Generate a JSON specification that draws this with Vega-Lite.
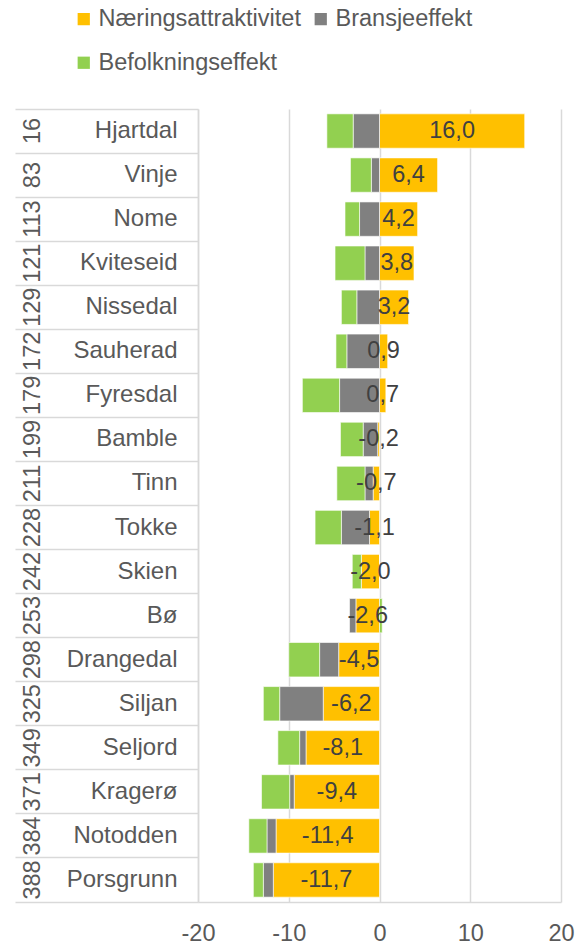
{
  "$schema": "https://vega.github.io/schema/vega-lite/v6.json",
  "padding": {"left": 14, "top": 7, "right": 0, "bottom": 0},
  "width": 363,
  "height": 793,
  "config": {
    "locale": {"number": {"decimal": ",", "thousands": " ", "grouping": [3], "currency": ["", " kr"], "minus": "-"}},
    "view": {"stroke": null},
    "font": "Liberation Sans"
  },
  "data": {"values": [
    {"rang": "16", "kommune": "Hjartdal", "serie": "Næringsattraktivitet", "verdi": 16.0},
    {"rang": "16", "kommune": "Hjartdal", "serie": "Bransjeeffekt", "verdi": -2.9},
    {"rang": "16", "kommune": "Hjartdal", "serie": "Befolkningseffekt", "verdi": -2.9},
    {"rang": "83", "kommune": "Vinje", "serie": "Næringsattraktivitet", "verdi": 6.4},
    {"rang": "83", "kommune": "Vinje", "serie": "Bransjeeffekt", "verdi": -0.9},
    {"rang": "83", "kommune": "Vinje", "serie": "Befolkningseffekt", "verdi": -2.3},
    {"rang": "113", "kommune": "Nome", "serie": "Næringsattraktivitet", "verdi": 4.2},
    {"rang": "113", "kommune": "Nome", "serie": "Bransjeeffekt", "verdi": -2.2},
    {"rang": "113", "kommune": "Nome", "serie": "Befolkningseffekt", "verdi": -1.6},
    {"rang": "121", "kommune": "Kviteseid", "serie": "Næringsattraktivitet", "verdi": 3.8},
    {"rang": "121", "kommune": "Kviteseid", "serie": "Bransjeeffekt", "verdi": -1.6},
    {"rang": "121", "kommune": "Kviteseid", "serie": "Befolkningseffekt", "verdi": -3.3},
    {"rang": "129", "kommune": "Nissedal", "serie": "Næringsattraktivitet", "verdi": 3.2},
    {"rang": "129", "kommune": "Nissedal", "serie": "Bransjeeffekt", "verdi": -2.5},
    {"rang": "129", "kommune": "Nissedal", "serie": "Befolkningseffekt", "verdi": -1.7},
    {"rang": "172", "kommune": "Sauherad", "serie": "Næringsattraktivitet", "verdi": 0.9},
    {"rang": "172", "kommune": "Sauherad", "serie": "Bransjeeffekt", "verdi": -3.6},
    {"rang": "172", "kommune": "Sauherad", "serie": "Befolkningseffekt", "verdi": -1.2},
    {"rang": "179", "kommune": "Fyresdal", "serie": "Næringsattraktivitet", "verdi": 0.7},
    {"rang": "179", "kommune": "Fyresdal", "serie": "Bransjeeffekt", "verdi": -4.4},
    {"rang": "179", "kommune": "Fyresdal", "serie": "Befolkningseffekt", "verdi": -4.1},
    {"rang": "199", "kommune": "Bamble", "serie": "Næringsattraktivitet", "verdi": -0.2},
    {"rang": "199", "kommune": "Bamble", "serie": "Bransjeeffekt", "verdi": -1.6},
    {"rang": "199", "kommune": "Bamble", "serie": "Befolkningseffekt", "verdi": -2.5},
    {"rang": "211", "kommune": "Tinn", "serie": "Næringsattraktivitet", "verdi": -0.7},
    {"rang": "211", "kommune": "Tinn", "serie": "Bransjeeffekt", "verdi": -0.9},
    {"rang": "211", "kommune": "Tinn", "serie": "Befolkningseffekt", "verdi": -3.1},
    {"rang": "228", "kommune": "Tokke", "serie": "Næringsattraktivitet", "verdi": -1.1},
    {"rang": "228", "kommune": "Tokke", "serie": "Bransjeeffekt", "verdi": -3.1},
    {"rang": "228", "kommune": "Tokke", "serie": "Befolkningseffekt", "verdi": -2.9},
    {"rang": "242", "kommune": "Skien", "serie": "Næringsattraktivitet", "verdi": -2.0},
    {"rang": "242", "kommune": "Skien", "serie": "Bransjeeffekt", "verdi": 0.0},
    {"rang": "242", "kommune": "Skien", "serie": "Befolkningseffekt", "verdi": -1.0},
    {"rang": "253", "kommune": "Bø", "serie": "Næringsattraktivitet", "verdi": -2.6},
    {"rang": "253", "kommune": "Bø", "serie": "Bransjeeffekt", "verdi": -0.7},
    {"rang": "253", "kommune": "Bø", "serie": "Befolkningseffekt", "verdi": 0.3},
    {"rang": "298", "kommune": "Drangedal", "serie": "Næringsattraktivitet", "verdi": -4.5},
    {"rang": "298", "kommune": "Drangedal", "serie": "Bransjeeffekt", "verdi": -2.1},
    {"rang": "298", "kommune": "Drangedal", "serie": "Befolkningseffekt", "verdi": -3.4},
    {"rang": "325", "kommune": "Siljan", "serie": "Næringsattraktivitet", "verdi": -6.2},
    {"rang": "325", "kommune": "Siljan", "serie": "Bransjeeffekt", "verdi": -4.8},
    {"rang": "325", "kommune": "Siljan", "serie": "Befolkningseffekt", "verdi": -1.8},
    {"rang": "349", "kommune": "Seljord", "serie": "Næringsattraktivitet", "verdi": -8.1},
    {"rang": "349", "kommune": "Seljord", "serie": "Bransjeeffekt", "verdi": -0.7},
    {"rang": "349", "kommune": "Seljord", "serie": "Befolkningseffekt", "verdi": -2.4},
    {"rang": "371", "kommune": "Kragerø", "serie": "Næringsattraktivitet", "verdi": -9.4},
    {"rang": "371", "kommune": "Kragerø", "serie": "Bransjeeffekt", "verdi": -0.5},
    {"rang": "371", "kommune": "Kragerø", "serie": "Befolkningseffekt", "verdi": -3.1},
    {"rang": "384", "kommune": "Notodden", "serie": "Næringsattraktivitet", "verdi": -11.4},
    {"rang": "384", "kommune": "Notodden", "serie": "Bransjeeffekt", "verdi": -1.0},
    {"rang": "384", "kommune": "Notodden", "serie": "Befolkningseffekt", "verdi": -2.0},
    {"rang": "388", "kommune": "Porsgrunn", "serie": "Næringsattraktivitet", "verdi": -11.7},
    {"rang": "388", "kommune": "Porsgrunn", "serie": "Bransjeeffekt", "verdi": -1.1},
    {"rang": "388", "kommune": "Porsgrunn", "serie": "Befolkningseffekt", "verdi": -1.1}
  ]},
  "layer": [
    {
      "mark": {"type": "bar", "height": {"band": 0.78}, "stroke": "#FFFFFF", "strokeWidth": 0.6},
      "encoding": {
        "y": {
          "field": "kommune", "type": "nominal", "sort": null,
          "scale": {"type": "band", "paddingInner": 0, "paddingOuter": 0},
          "axis": {
            "orient": "left", "title": null, "ticks": false, "tickSize": 0,
            "domain": true, "domainColor": "#D9D9D9", "domainWidth": 1.5,
            "labelAlign": "right", "labelBaseline": "middle", "labelPadding": 21,
            "labelFontSize": 24, "labelColor": "#595959", "labelLimit": 0, "grid": false
          }
        },
        "x": {
          "field": "verdi", "type": "quantitative", "stack": "zero",
          "scale": {"domain": [-20, 20], "nice": false, "zero": false},
          "axis": {
            "title": null, "values": [-20, -10, 0, 10, 20], "format": "d",
            "grid": true, "gridColor": "#D9D9D9", "gridWidth": 1.5,
            "domainColor": "#D9D9D9", "domainWidth": 1.5,
            "ticks": false, "tickSize": 0, "labelPadding": 19, "labelFlush": false,
            "labelFontSize": 23.5, "labelColor": "#595959"
          }
        },
        "color": {
          "field": "serie", "type": "nominal",
          "scale": {"domain": ["Næringsattraktivitet", "Bransjeeffekt", "Befolkningseffekt"], "range": ["#FFC000", "#808080", "#92D050"]},
          "legend": {
            "orient": "none", "direction": "horizontal", "legendX": -126, "legendY": -102, "columns": 2, "title": null,
            "symbolType": "square", "symbolSize": 150, "symbolStrokeWidth": 0,
            "labelFontSize": 23.5, "labelColor": "#595959", "labelOffset": 3,
            "rowPadding": 19, "columnPadding": 8, "labelLimit": 0
          }
        },
        "order": {"field": "serie", "sort": "descending"}
      }
    },
    {
      "transform": [{"filter": "datum.serie === 'Næringsattraktivitet'"}],
      "mark": {"type": "text", "fontSize": 23.5, "color": "#404040", "align": "center", "baseline": "middle"},
      "encoding": {
        "y": {
          "field": "rang", "type": "nominal", "sort": null,
          "scale": {"type": "band", "paddingInner": 0, "paddingOuter": 0},
          "axis": {
            "orient": "left", "title": null, "domain": false, "grid": false,
            "ticks": true, "tickSize": 183, "tickColor": "#D9D9D9", "tickWidth": 1.5,
            "bandPosition": 1, "tickExtra": true,
            "labelAngle": 270, "labelAlign": "center", "labelBaseline": "middle",
            "labelPadding": -17.4, "labelFontSize": 23.5, "labelColor": "#595959"
          }
        },
        "x": {"field": "verdi", "type": "quantitative", "stack": "zero", "bandPosition": 0.5},
        "text": {"field": "verdi", "type": "quantitative", "format": ".1f"}
      }
    }
  ],
  "resolve": {"scale": {"y": "independent"}, "axis": {"y": "independent"}}
}
